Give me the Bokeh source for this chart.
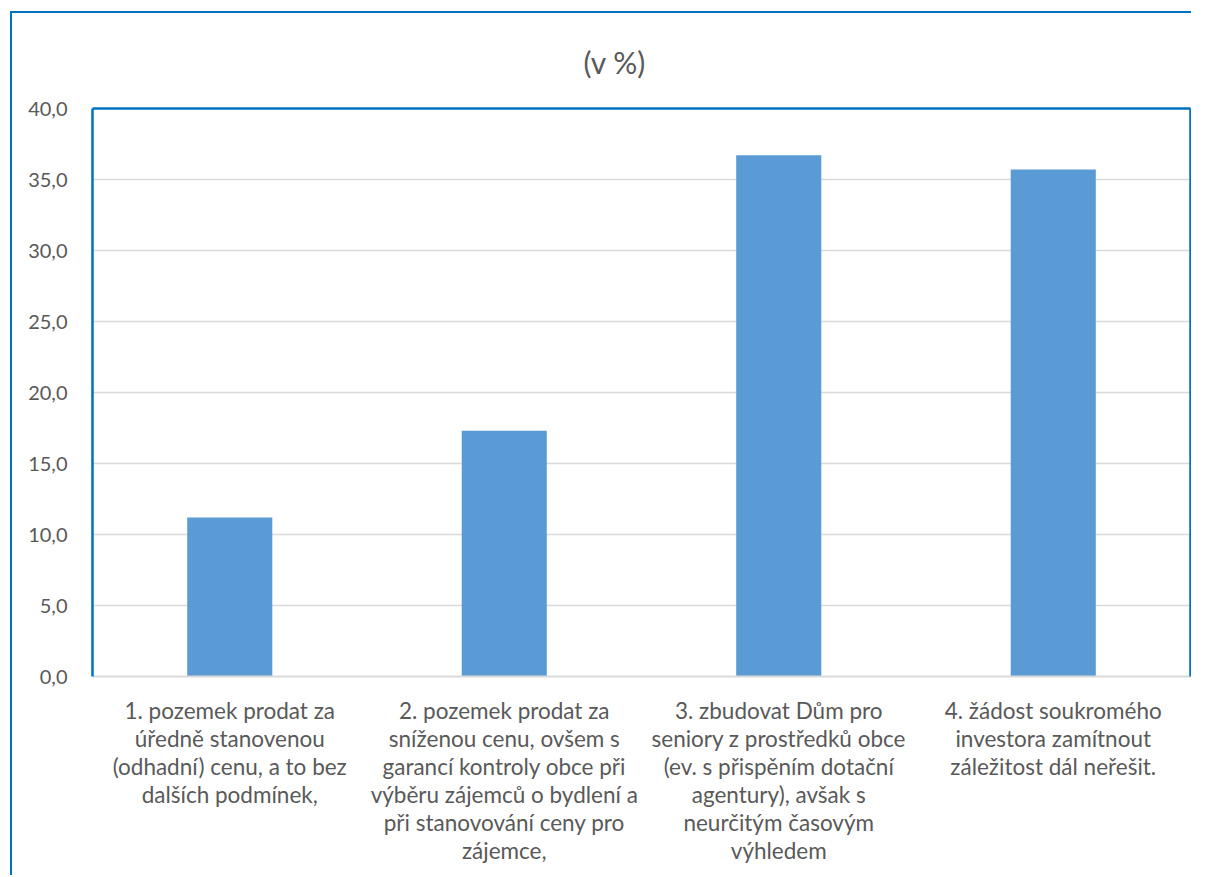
from bokeh.plotting import figure
from bokeh.models import FixedTicker, CategoricalAxis, LinearAxis, Range1d, FactorRange
from bokeh.embed import file_html
from bokeh.resources import INLINE

categories = [
    "1. pozemek prodat za\núředně stanovenou\n(odhadní) cenu, a to bez\ndalších podmínek,",
    "2. pozemek prodat za\nsníženou cenu, ovšem s\ngarancí kontroly obce při\nvýběru zájemců o bydlení a\npři stanovování ceny pro\nzájemce,",
    "3. zbudovat Dům pro\nseniory z prostředků obce\n(ev. s přispěním dotační\nagentury), avšak s\nneurčitým časovým\nvýhledem",
    "4. žádost soukromého\ninvestora zamítnout\nzáležitost dál neřešit.",
]
values = [11.2, 17.3, 36.7, 35.7]
y_ticks = [0, 5, 10, 15, 20, 25, 30, 35, 40]
y_tick_labels = ["0,0", "5,0", "10,0", "15,0", "20,0", "25,0", "30,0", "35,0", "40,0"]
title_text = "(v %)"

FONT = "Lato"
BLUE = "#0070C0"
TXT = "#595959"

# figure host is offset by margin + border: left 10+2, top 11+2
p = figure(
    width=1181, height=864,
    x_range=FactorRange(*categories, range_padding=0),
    y_range=Range1d(0, 40),
    output_backend="svg", toolbar_location=None,
    min_border_left=80, min_border_top=95, min_border_right=3, min_border_bottom=201,
)
p.margin = (11, 0, 0, 10)
p.styles = {"border-left": "2px solid " + BLUE, "border-top": "2px solid " + BLUE}

p.title.text = title_text
p.title.align = "left"
p.title.offset = 491
p.title.text_font = FONT
p.title.text_font_size = "30px"
p.title.text_font_style = "normal"
p.title.text_color = TXT
p.title.standoff = 57

p.vbar(x=categories, top=values, width=0.31, color="#5B9BD5", line_color=None)

p.outline_line_color = None
p.background_fill_color = "white"
p.border_fill_color = "white"

p.xgrid.grid_line_color = None
p.ygrid.grid_line_color = "#D9D9D9"
p.ygrid.grid_line_width = 1.5
p.ygrid.ticker = FixedTicker(ticks=y_ticks)

ya = p.yaxis[0]
ya.ticker = FixedTicker(ticks=y_ticks)
ya.major_label_overrides = {t: l for t, l in zip(y_ticks, y_tick_labels)}
ya.major_tick_line_color = None
ya.minor_tick_line_color = None
ya.axis_line_color = BLUE
ya.axis_line_width = 2.5
ya.major_label_text_font = FONT
ya.major_label_text_font_size = "20px"
ya.major_label_text_color = TXT
ya.major_label_standoff = 19

xa = p.xaxis[0]
xa.major_tick_line_color = None
xa.minor_tick_line_color = None
xa.axis_line_color = "#D9D9D9"
xa.axis_line_width = 2
xa.major_label_text_font = FONT
xa.major_label_text_font_size = "22.5px"
xa.major_label_text_color = TXT
xa.major_label_text_align = "center"
xa.major_label_text_baseline = "top"
xa.major_label_text_line_height = 1.04
xa.major_label_standoff = 14
xa.major_label_orientation = "horizontal"

ax_r = LinearAxis(ticker=FixedTicker(ticks=[]), axis_line_color=BLUE, axis_line_width=2.5,
                  major_tick_line_color=None, minor_tick_line_color=None,
                  major_tick_out=0, major_tick_in=0,
                  major_label_standoff=0, major_label_text_font_size="0px")
p.add_layout(ax_r, "right")
ax_t = CategoricalAxis(axis_line_color=BLUE, axis_line_width=2.5,
                       major_tick_line_color=None, minor_tick_line_color=None,
                       major_tick_out=0, major_tick_in=0,
                       major_label_standoff=0, axis_label_standoff=0,
                       major_label_text_font_size="0px", major_label_text_alpha=0)
p.add_layout(ax_t, "above")

open("out.html", "w").write(file_html(p, INLINE))
